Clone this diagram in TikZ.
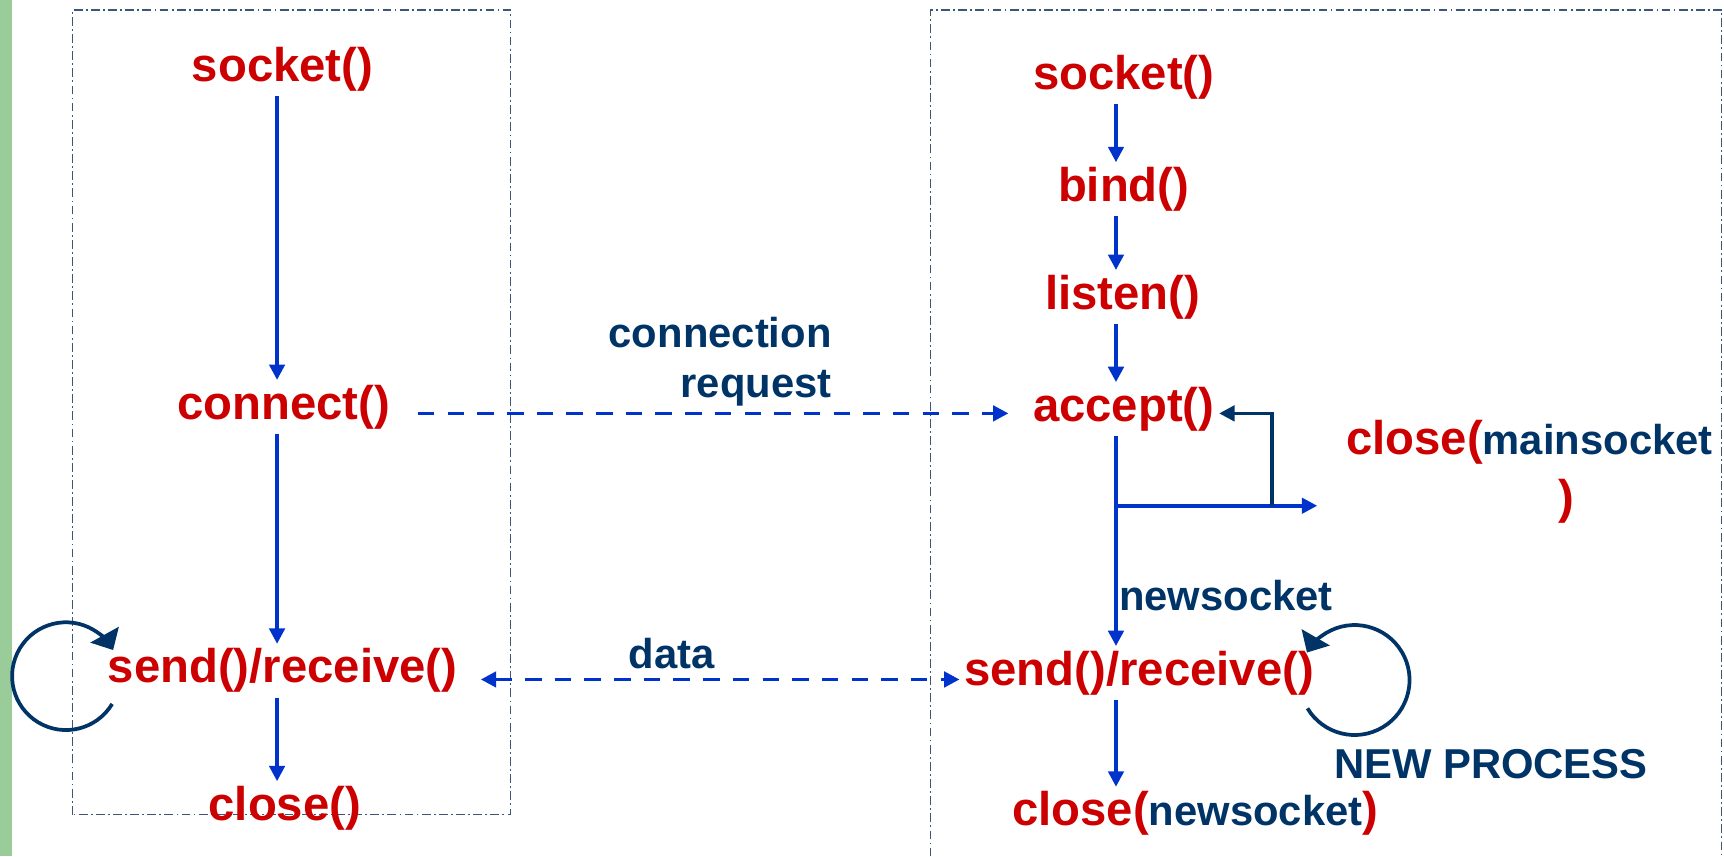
\documentclass[tikz,border=0pt]{standalone}
\usepackage{fontspec}
\setmainfont{Liberation Sans}
\usetikzlibrary{arrows.meta}
\definecolor{callred}{RGB}{204,0,0}
\definecolor{notedark}{RGB}{0,51,102}
\definecolor{flowblue}{RGB}{0,51,204}
\definecolor{hostline}{RGB}{60,85,120}
\definecolor{barbg}{RGB}{153,204,153}
\newcommand{\sockname}[1]{{\color{notedark}\fontsize{19}{22.5}\selectfont #1}}
\tikzset{
  call/.style={text=callred,font=\bfseries\fontsize{21.5}{26.5}\selectfont,inner sep=2pt},
  note/.style={text=notedark,font=\bfseries\fontsize{19}{22.5}\selectfont,inner sep=2pt},
  flow/.style={draw=flowblue,line width=1.6pt,-{Triangle[length=7pt,width=7pt]}},
  msg/.style={flow,dash pattern=on 7.5pt off 6pt},
  retn/.style={draw=notedark,line width=1.6pt,-{Triangle[length=7pt,width=7pt]}},
  spin/.style={draw=notedark,line width=1.7pt,-{Triangle[length=8pt,width=14.5pt]}},
  host/.style={draw=hostline,line width=0.6pt,dash pattern=on 4pt off 1.5pt on 0.8pt off 1.5pt}
}
\begin{document}
\begin{tikzpicture}[x=0.5pt,y=0.5pt]
      \useasboundingbox (0,0) rectangle (1568,779);
      \fill[barbg] (0,0) rectangle (11,779);
      \draw[host] (66,38) rectangle (464,770);
      \draw[host] (846,0) -- (846,770) -- (1566,770) -- (1566,0);
      \draw
        (257,716) node[call] (sockL) {socket()}
        (258,409) node[call] (connL) {connect()}
        (257,169) node[call] (sendL) {send()/receive()}
        (259,44) node[call] (closeL) {close()}
        (1022,709) node[call] (sockR) {socket()}
        (1022,607) node[call] (bind) {bind()}
        (1021,509) node[call] (listen) {listen()}
        (1022,407) node[call] (accept) {accept()}
        (1036,167) node[call] (sendR) {send()/receive()}
        (1087,39) node[call] (closeR) {close(\sockname{newsocket})}
        (1391,350) node[call,align=center] (closeM) {close(\sockname{mainsocket}\\\hspace*{34pt})}
        (655,450) node[note,align=right] (req) {connection\\request}
        (611,185) node[note] (data) {data}
        (1115,237) node[note] (newsock) {newsocket}
        (1356,84) node[note] (newproc) {NEW PROCESS};
      \coordinate (lcol) at (252,0);
      \coordinate (rcol) at (1015,0);
      \coordinate (split) at (1015,319);
      \coordinate (fork) at (1198,319);
      \coordinate (turn) at (1157,319);
      \coordinate (loopL) at (60,164);
      \coordinate (loopR) at (1232,160.5);
      \begin{scope}[flow]
        \draw (sockL.south -| lcol) -- (connL.north -| lcol);
        \draw (connL.south -| lcol) -- (sendL.north -| lcol);
        \draw (sendL.south -| lcol) -- (closeL.north -| lcol);
        \draw (sockR.south -| rcol) -- (bind.north -| rcol);
        \draw (bind.south -| rcol) -- (listen.north -| rcol);
        \draw (listen.south -| rcol) -- (accept.north -| rcol);
        \draw (accept.south -| rcol) -- (sendR.north -| rcol);
        \draw (sendR.south -| rcol) -- (closeR.north -| rcol);
        \draw (split) -- (fork);
      \end{scope}
      \draw[retn] (turn) |- ([yshift=-2pt]accept.east);
      \draw[msg,shorten <=10.5pt,shorten >=9pt] ([yshift=-3pt]connL.east) -- ([yshift=-3pt]connL.east -| accept.west);
      \draw[msg,{Triangle[length=7pt,width=7pt]}-{Triangle[length=7pt,width=7pt]},shorten <=8.5pt] ([yshift=-4pt]sendL.east) -- ([yshift=-4pt]sendL.east -| sendR.west);
      \draw[spin] ([shift={(-31:49)}]loopL) arc[start angle=-31,end angle=-331,radius=49];
      \draw[spin] ([shift={(211:50)}]loopR) arc[start angle=211,end angle=510,radius=50];
    \end{tikzpicture}
\end{document}
